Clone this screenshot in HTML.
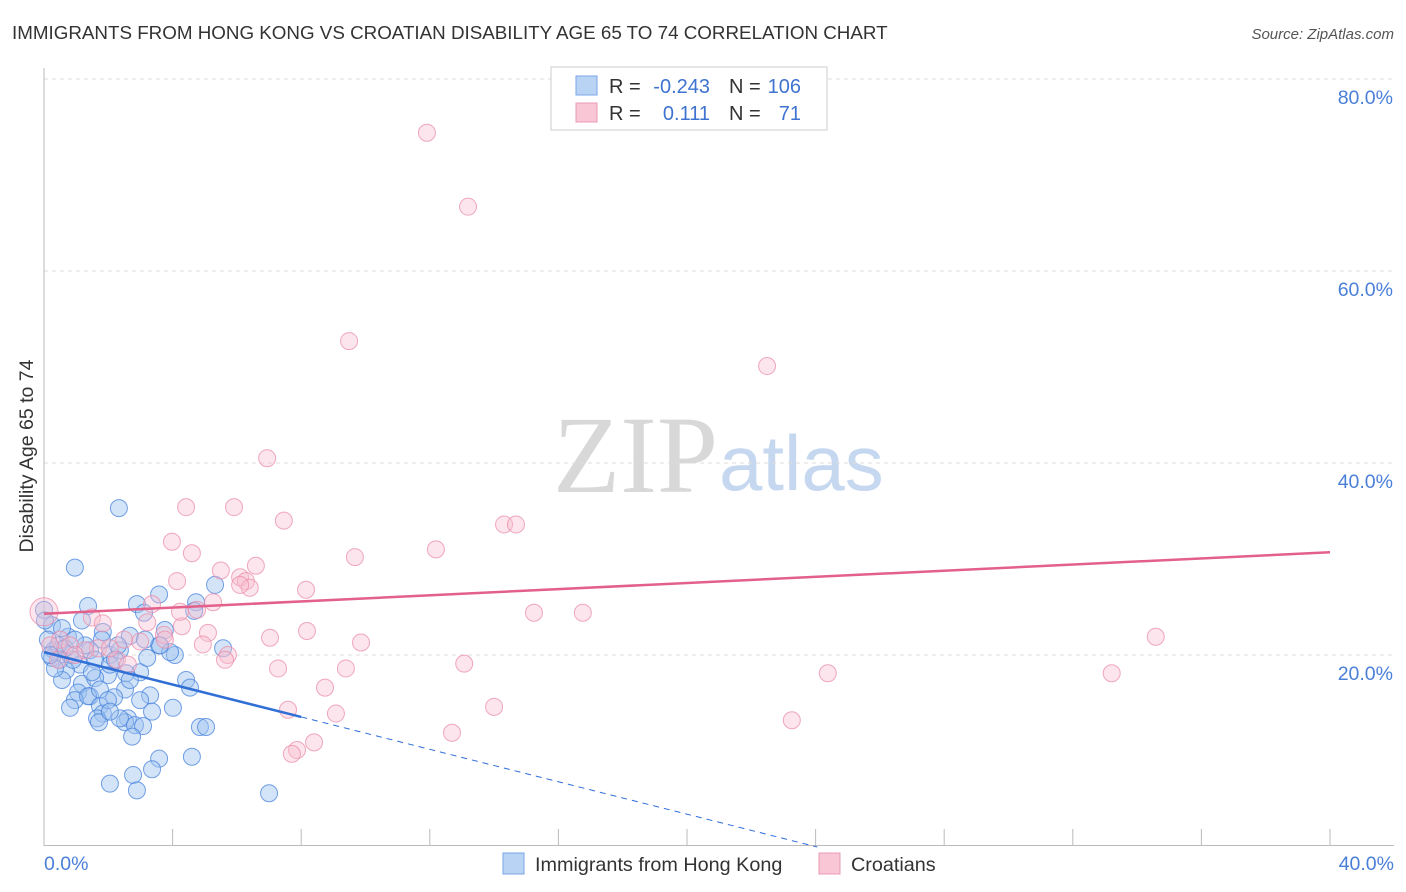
<!DOCTYPE html>
<html><head><meta charset="utf-8"><style>
body{margin:0;background:#fff;font-family:"Liberation Sans",sans-serif;}
#wrap{position:relative;width:1406px;height:892px;overflow:hidden;}
</style></head><body>
<div id="wrap">
<svg id="svg" width="1406" height="892" xmlns="http://www.w3.org/2000/svg">
<text x="12" y="39" font-size="18.8" fill="#333">IMMIGRANTS FROM HONG KONG VS CROATIAN DISABILITY AGE 65 TO 74 CORRELATION CHART</text>
<text x="1394" y="39" font-size="15" fill="#555" font-style="italic" text-anchor="end">Source: ZipAtlas.com</text>
<text x="553" y="492" font-size="110" fill="#d8d8d8" font-family="Liberation Serif,serif">ZIP</text>
<text x="719" y="490" font-size="78" fill="#c6d8f0">atlas</text>
<g id="grid"></g><g id="axes"></g><g id="pts"></g><g id="lines"></g>
<text transform="translate(33,456) rotate(-90)" font-size="19.5" fill="#333" text-anchor="middle">Disability Age 65 to 74</text>
<g>
<rect x="551" y="67" width="276" height="63" fill="#fff" stroke="#ccc"/>
<rect x="576" y="76" width="21" height="19" fill="#b9d3f5" stroke="#7aa5e8"/>
<rect x="576" y="103" width="21" height="19" fill="#f9c6d6" stroke="#eb9ab3"/>
<text x="609" y="93" font-size="20" fill="#333">R =</text>
<text x="710" y="93" font-size="20" fill="#3f73d0" text-anchor="end">-0.243</text>
<text x="729" y="93" font-size="20" fill="#333">N =</text>
<text x="801" y="93" font-size="20" fill="#3f73d0" text-anchor="end">106</text>
<text x="609" y="120" font-size="20" fill="#333">R =</text>
<text x="710" y="120" font-size="20" fill="#3f73d0" text-anchor="end">0.111</text>
<text x="729" y="120" font-size="20" fill="#333">N =</text>
<text x="801" y="120" font-size="20" fill="#3f73d0" text-anchor="end">71</text>
</g>
<g>
<rect x="503" y="853" width="21" height="21" fill="#b9d3f5" stroke="#7aa5e8"/>
<text x="535" y="871" font-size="19.8" fill="#333">Immigrants from Hong Kong</text>
<rect x="819" y="853" width="21" height="21" fill="#f9c6d6" stroke="#eb9ab3"/>
<text x="851" y="871" font-size="19.8" fill="#333">Croatians</text>
</g>
</svg>
</div>
<script>
const xTicks=[0,40];
const yTicks=[20,40,60,80];
const blueX=[2.33,0.96,5.32,3.58,1.37,2.89,4.73,4.67,3.11,1.18,0.25,0,0.75,1.83,2.67,3.76,3.58,5.57,4.07,0.31,0.5,0.25,0.81,1.43,2.05,2.36,1.12,1.59,0.68,2.99,1.99,2.55,4.42,0.56,1.18,1.59,2.52,4.54,1.06,1.43,3.30,0.96,1.37,2.18,0.81,1.74,1.83,3.36,4.01,1.65,2.61,1.71,2.52,2.83,3.08,4.85,5.04,2.74,4.60,3.58,3.36,2.77,2.05,2.89,7.0,0.44,0.12,0.03,0.56,1.80,2.30,3.21,3.92,2.05,2.67,0.34,0.90,1.28,0.19,0.65,2.21,1.74,1.99,2.99,2.36,3.61,3.14,0.96,1.49,2.05];
const blueY=[35.3,29.1,27.3,26.3,25.1,25.3,25.5,24.6,24.4,23.6,23.1,24.7,21.9,22.4,22.0,22.6,21.0,20.7,20.0,20.5,19.5,19.7,20.0,20.5,20.0,20.5,19.0,19.5,18.4,18.2,17.9,18.1,17.4,17.4,17.0,17.6,16.4,16.6,16.1,15.7,15.8,15.3,15.7,15.6,14.5,14.7,13.9,14.1,14.5,13.4,13.4,13.0,13.0,12.7,12.6,12.5,12.5,11.5,9.4,9.2,8.1,7.5,6.6,5.9,5.6,21.0,21.6,23.6,22.8,21.6,21.0,19.7,20.3,19.0,17.4,18.6,19.5,21.0,20.0,20.7,19.5,16.4,15.3,15.3,13.4,21.0,21.6,21.6,18.2,14.1];
const pinkX=[11.91,13.19,9.49,22.49,6.94,4.42,5.91,7.46,14.31,14.68,3.98,12.19,4.60,9.67,6.59,5.50,6.10,4.14,6.28,6.40,8.15,5.26,3.36,0,4.76,15.24,16.76,3.21,4.29,1.49,8.18,5.1,3.73,7.03,34.58,9.86,4.94,2.49,5.72,1.68,2.27,5.63,13.07,7.28,9.39,2.61,24.38,33.21,8.74,14.0,7.59,9.08,23.26,12.69,8.40,7.87,7.71,0.5,0.81,1.28,0.19,2.05,2.99,3.76,0.96,0.44,1.83,6.1,4.23];
const pinkY=[74.4,66.7,52.7,50.1,40.5,35.4,35.4,34.0,33.6,33.6,31.8,31.0,30.6,30.2,29.3,28.8,28.1,27.7,27.7,27.0,26.8,25.5,25.3,24.5,24.7,24.4,24.4,23.4,23.0,23.9,22.5,22.3,22.1,21.8,21.9,21.3,21.1,21.6,20.0,20.7,19.5,19.5,19.1,18.6,18.6,19.0,18.1,18.1,16.6,14.6,14.3,13.9,13.2,11.9,10.9,10.1,9.7,21.6,21.0,20.5,21.0,20.7,21.4,21.6,20.0,19.5,23.3,27.3,24.5];
const blueTrend=[20.3,-0.844];
const pinkTrend=[24.3,0.16];
const blueSolidEnd=8.0;

const X=v=>44+v/40*1286, Y=v=>847-v/20*192;
const NS='http://www.w3.org/2000/svg';
function mk(tag,parent,attrs){const e=document.createElementNS(NS,tag);for(const k in attrs)e.setAttribute(k,attrs[k]);document.getElementById(parent).appendChild(e);return e;}
yTicks.forEach(t=>{
 const g=mk('line','grid',{x1:44,x2:1394,y1:Y(t),y2:Y(t),stroke:'#ddd','stroke-dasharray':'4,4'});
 
 
 const l=mk('text','axes',{x:1393,y:Y(t)+25,'font-size':19.5,fill:'#4a7fd8','text-anchor':'end'});
 l.textContent=t.toFixed(1)+'%';
 
 
});
let ax=mk('line','axes',{x1:44,x2:44,y1:68,y2:846,stroke:'#bbb'});


ax=mk('line','axes',{x1:44,x2:1394,y1:845.5,y2:845.5,stroke:'#bbb'});


for(let i=1;i<=10;i++){const tk=mk('line','axes',{x1:X(i*4),x2:X(i*4),y1:829,y2:845,stroke:'#bbb'});
 
 }
xTicks.forEach((t,i)=>{const l=mk('text','axes',{x:i==0?44:1394,y:870,'font-size':19.5,fill:'#4a7fd8','text-anchor':i==0?'start':'end'});
 l.textContent=t.toFixed(1)+'%';
 
 });
blueX.forEach((x,i)=>{const c=mk('circle','pts',{cx:X(x),cy:Y(blueY[i]),r:8.5,fill:'rgba(160,195,240,0.45)',stroke:'rgba(70,130,220,0.75)','stroke-width':1});
 
 });
pinkX.forEach((x,i)=>{const c=mk('circle','pts',{cx:X(x),cy:Y(pinkY[i]),r:i==23?14:8.5,fill:'rgba(248,190,208,0.4)',stroke:'rgba(235,140,170,0.75)','stroke-width':1});
 
 });
const bf=x=>blueTrend[0]+blueTrend[1]*x, pf=x=>pinkTrend[0]+pinkTrend[1]*x;
let ln=mk('line','lines',{x1:X(0),y1:Y(pf(0)),x2:X(40),y2:Y(pf(40)),stroke:'#e3608a','stroke-width':2.5});


ln=mk('line','lines',{x1:X(0),y1:Y(bf(0)),x2:X(blueSolidEnd),y2:Y(bf(blueSolidEnd)),stroke:'#2f6fd6','stroke-width':2.5});


const xz=-blueTrend[0]/blueTrend[1];
ln=mk('line','lines',{x1:X(blueSolidEnd),y1:Y(bf(blueSolidEnd)),x2:X(xz),y2:Y(0),stroke:'#2f6fd6','stroke-width':1,'stroke-dasharray':'6,5'});


</script>
</body></html>
